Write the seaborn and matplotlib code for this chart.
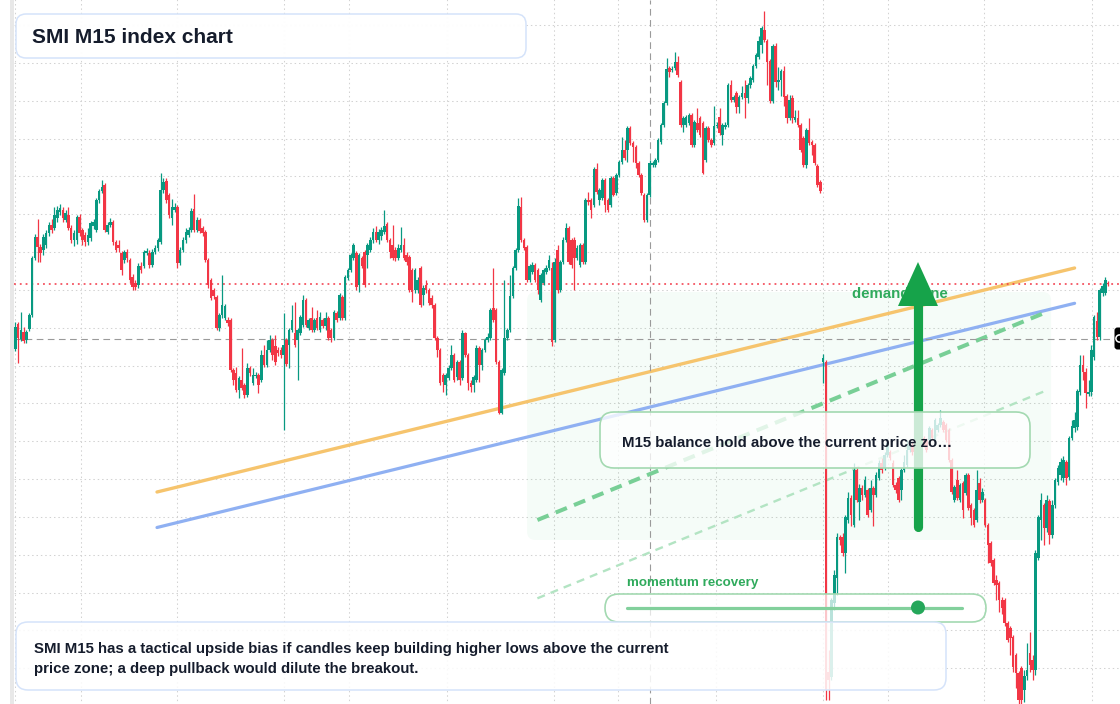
import numpy as np
import matplotlib.pyplot as plt
from matplotlib.patches import FancyBboxPatch, Polygon, Circle, Rectangle
from matplotlib.colors import to_rgba
import seaborn as sns

# ====================== DATA (SMI M15 candles) ======================
opens = [
    12051, 12076, 12061, 12068, 12060, 12071, 12085, 12142, 12163, 12153,
    12150, 12155, 12167, 12175, 12172, 12182, 12188, 12190, 12180, 12185,
    12172, 12160, 12160, 12183, 12170, 12165, 12158, 12162, 12174, 12170,
    12200, 12209, 12215, 12168, 12175, 12178, 12158, 12155, 12147, 12140,
    12148, 12140, 12123, 12117, 12115, 12134, 12134, 12147, 12147, 12135,
    12148, 12152, 12158, 12210, 12219, 12205, 12182, 12190, 12193, 12137,
    12150, 12160, 12165, 12170, 12191, 12170, 12180, 12172, 12168, 12140,
    12120, 12110, 12103, 12072, 12085, 12082, 12080, 12080, 12030, 12027,
    12010, 12020, 12015, 12005, 12032, 12017, 12024, 12025, 12020, 12045,
    12035, 12050, 12060, 12054, 12050, 12050, 12045, 12060, 12055, 12070,
    12067, 12060, 12067, 12075, 12100, 12072, 12082, 12070, 12082, 12070,
    12080, 12074, 12082, 12070, 12062, 12087, 12082, 12103, 12082, 12122,
    12130, 12142, 12147, 12115, 12142, 12148, 12145, 12150, 12160, 12168,
    12160, 12164, 12168, 12176, 12160, 12155, 12150, 12142, 12150, 12155,
    12145, 12143, 12130, 12110, 12110, 12132, 12105, 12115, 12110, 12102,
    12095, 12062, 12050, 12025, 12015, 12022, 12032, 12045, 12023, 12038,
    12022, 12067, 12045, 12017, 12015, 12020, 12052, 12035, 12050, 12060,
    12062, 12092, 12090, 12038, 11987, 12027, 12062, 12070, 12104, 12132,
    12150, 12193, 12160, 12153, 12120, 12128, 12135, 12130, 12100, 12117,
    12128, 12132, 12132, 12060, 12150, 12110, 12138, 12160, 12172, 12160,
    12160, 12142, 12135, 12155, 12138, 12200, 12200, 12195, 12231, 12200,
    12202, 12220, 12200, 12195, 12222, 12207, 12225, 12238, 12250, 12250,
    12272, 12257, 12253, 12237, 12225, 12205, 12180, 12205, 12235, 12235,
    12240, 12258, 12275, 12297, 12332, 12330, 12332, 12338, 12318, 12275,
    12275, 12277, 12285, 12255, 12277, 12282, 12277, 12240, 12272, 12260,
    12257, 12274, 12283, 12265, 12273, 12275, 12315, 12300, 12307, 12293,
    12303, 12307, 12302, 12315, 12320, 12334, 12343, 12355, 12370, 12359,
    12339, 12299, 12354, 12318, 12320, 12329, 12304, 12282, 12302, 12280,
    12282, 12275, 12262, 12235, 12270, 12258, 12255, 12234, 12218, 12038,
    12038, 11728, 11723, 11797, 11822, 11863, 11863, 11847, 11880, 11902,
    11875, 11930, 11898, 11912, 11905, 11910, 11890, 11912, 11905, 11922,
    11937, 11932, 11945, 11948, 11937, 11915, 11922, 11910, 11930, 11935,
    11950, 11955, 11955, 11945, 11955, 11962, 11960, 11960, 11970, 11960, 11970,
    11975, 11978, 11975, 11970, 11940, 11900, 11920, 11900, 11917, 11907,
    11925, 11895, 11890, 11880, 11917, 11900, 11900, 11875, 11857, 11840,
    11820, 11817, 11800, 11800, 11777, 11772, 11763, 11745, 11727, 11732, 11710,
    11724, 11747, 11740, 11730, 11842, 11880, 11895, 11872, 11899, 11865,
    11895, 11918, 11925, 11922, 11938, 11923, 11962, 11972, 11973, 12008,
    12035, 12028, 12006, 12008, 12043, 12079, 12063, 12107, 12107, 12117,
]
highs = [
    12078, 12078, 12088, 12073, 12070, 12087, 12144, 12166, 12181, 12156,
    12166, 12170, 12178, 12181, 12193, 12194, 12196, 12193, 12190, 12193,
    12175, 12170, 12185, 12186, 12172, 12168, 12172, 12179, 12181, 12202,
    12211, 12220, 12217, 12178, 12182, 12180, 12160, 12160, 12149, 12150,
    12151, 12142, 12126, 12120, 12137, 12138, 12150, 12152, 12150, 12151,
    12155, 12162, 12227, 12222, 12222, 12207, 12201, 12197, 12195, 12153,
    12163, 12172, 12173, 12192, 12206, 12183, 12182, 12174, 12170, 12142,
    12122, 12112, 12105, 12087, 12125, 12096, 12083, 12082, 12032, 12033,
    12024, 12052, 12017, 12037, 12034, 12032, 12028, 12027, 12050, 12055,
    12060, 12065, 12062, 12065, 12053, 12053, 12087, 12062, 12072, 12095,
    12098, 12072, 12085, 12105, 12102, 12082, 12093, 12082, 12090, 12088,
    12082, 12088, 12084, 12072, 12090, 12089, 12107, 12105, 12125, 12132,
    12147, 12157, 12149, 12147, 12144, 12150, 12157, 12163, 12172, 12174,
    12171, 12173, 12190, 12178, 12162, 12175, 12153, 12156, 12173, 12162,
    12148, 12145, 12132, 12132, 12123, 12134, 12115, 12120, 12112, 12105,
    12097, 12064, 12052, 12027, 12027, 12035, 12055, 12047, 12040, 12040,
    12070, 12068, 12047, 12020, 12025, 12055, 12054, 12052, 12062, 12067,
    12092, 12132, 12092, 12040, 12032, 12120, 12072, 12125, 12134, 12152,
    12202, 12203, 12162, 12155, 12136, 12138, 12137, 12132, 12127, 12132,
    12135, 12145, 12138, 12142, 12155, 12140, 12163, 12177, 12174, 12162,
    12163, 12155, 12157, 12157, 12202, 12208, 12202, 12233, 12237, 12212,
    12222, 12222, 12202, 12224, 12224, 12227, 12240, 12263, 12260, 12274,
    12274, 12259, 12255, 12239, 12227, 12207, 12207, 12240, 12239, 12242,
    12262, 12277, 12299, 12342, 12334, 12334, 12348, 12344, 12320, 12284,
    12285, 12287, 12287, 12280, 12292, 12284, 12279, 12274, 12274, 12262,
    12294, 12278, 12292, 12277, 12278, 12317, 12320, 12305, 12309, 12305,
    12314, 12320, 12317, 12324, 12336, 12347, 12364, 12374, 12389, 12361,
    12341, 12356, 12357, 12333, 12331, 12334, 12306, 12305, 12305, 12290,
    12290, 12277, 12264, 12272, 12282, 12260, 12257, 12236, 12220, 12046,
    12040, 11750, 11802, 11830, 11867, 11865, 11867, 11885, 11908, 11905,
    11937, 11932, 11916, 11915, 11924, 11912, 11920, 11914, 11928, 11940,
    11942, 11948, 11960, 11950, 11940, 11918, 11924, 11932, 11945, 11960,
    11960, 11958, 11960, 11965, 11972, 11964, 11962, 11974, 11972, 11982, 11977,
    11990, 11980, 11977, 11972, 11942, 11915, 11930, 11917, 11919, 11927,
    11927, 11897, 11892, 11930, 11922, 11912, 11902, 11877, 11859, 11842,
    11825, 11819, 11803, 11802, 11779, 11774, 11765, 11747, 11729, 11734, 11730,
    11757, 11768, 11745, 11850, 11885, 11907, 11897, 11905, 11901, 11900,
    11922, 11935, 11942, 11944, 11940, 11964, 11980, 11988, 12011, 12045,
    12045, 12032, 12020, 12055, 12085, 12088, 12112, 12117, 12123, 12119,
]
lows = [
    12049, 12037, 12059, 12057, 12057, 12069, 12083, 12140, 12138, 12138,
    12145, 12152, 12164, 12167, 12170, 12178, 12185, 12178, 12178, 12170,
    12157, 12154, 12156, 12164, 12155, 12154, 12155, 12159, 12171, 12168,
    12197, 12207, 12168, 12166, 12173, 12155, 12148, 12148, 12125, 12137,
    12138, 12117, 12110, 12110, 12112, 12127, 12132, 12145, 12132, 12133,
    12146, 12149, 12156, 12207, 12197, 12182, 12175, 12188, 12132, 12135,
    12148, 12157, 12163, 12168, 12168, 12168, 12167, 12164, 12138, 12112,
    12100, 12101, 12070, 12069, 12082, 12080, 12074, 12028, 12015, 12008,
    12002, 12010, 12002, 12003, 12024, 12015, 12022, 12007, 12018, 12033,
    12033, 12048, 12040, 12035, 12044, 12042, 11970, 12034, 12032, 12068,
    12053, 12020, 12065, 12073, 12073, 12070, 12068, 12068, 12070, 12068,
    12072, 12070, 12060, 12058, 12060, 12078, 12080, 12080, 12080, 12120,
    12128, 12140, 12110, 12108, 12132, 12113, 12132, 12148, 12157, 12158,
    12156, 12160, 12166, 12158, 12142, 12140, 12139, 12140, 12148, 12140,
    12135, 12108, 12098, 12107, 12107, 12093, 12095, 12107, 12095, 12092,
    12060, 12043, 12015, 12008, 12005, 12020, 12030, 12018, 12020, 12015,
    12020, 12043, 12010, 12008, 12008, 12018, 12018, 12030, 12048, 12058,
    12060, 12078, 12036, 11986, 11986, 12025, 12060, 12068, 12102, 12130,
    12148, 12158, 12150, 12118, 12118, 12126, 12118, 12106, 12098, 12115,
    12126, 12130, 12054, 12058, 12107, 12108, 12136, 12158, 12136, 12132,
    12110, 12140, 12133, 12136, 12136, 12195, 12182, 12193, 12206, 12195,
    12200, 12188, 12188, 12193, 12204, 12205, 12223, 12236, 12240, 12238,
    12255, 12238, 12232, 12223, 12205, 12178, 12178, 12203, 12233, 12233,
    12238, 12256, 12273, 12295, 12323, 12328, 12330, 12323, 12273, 12268,
    12273, 12275, 12253, 12253, 12268, 12263, 12226, 12238, 12258, 12253,
    12255, 12272, 12265, 12255, 12271, 12273, 12298, 12298, 12287, 12287,
    12301, 12282, 12297, 12312, 12318, 12332, 12341, 12347, 12358, 12315,
    12297, 12297, 12313, 12310, 12304, 12294, 12277, 12280, 12277, 12278,
    12273, 12248, 12233, 12232, 12255, 12245, 12235, 12213, 12207, 12017,
    11700, 11700, 11720, 11790, 11805, 11855, 11844, 11827, 11877, 11874,
    11873, 11898, 11880, 11900, 11903, 11883, 11888, 11874, 11903, 11920,
    11927, 11930, 11943, 11940, 11913, 11907, 11898, 11900, 11928, 11933,
    11948, 11945, 11942, 11942, 11953, 11953, 11948, 11958, 11960, 11958, 11968,
    11973, 11968, 11958, 11938, 11906, 11898, 11900, 11898, 11882, 11905,
    11890, 11875, 11873, 11878, 11897, 11898, 11873, 11837, 11834, 11815,
    11800, 11788, 11786, 11774, 11758, 11745, 11728, 11712, 11696, 11696, 11698,
    11720, 11728, 11720, 11725, 11840, 11860, 11855, 11868, 11856, 11862,
    11892, 11915, 11920, 11918, 11915, 11920, 11960, 11968, 11970, 12005,
    12020, 11992, 12004, 12004, 12040, 12060, 12060, 12104, 12105, 12114,
]
closes = [
    12073, 12062, 12070, 12059, 12068, 12085, 12142, 12163, 12153, 12147,
    12163, 12167, 12175, 12170, 12185, 12190, 12192, 12182, 12187, 12172,
    12160, 12167, 12183, 12167, 12160, 12158, 12165, 12177, 12178, 12200,
    12209, 12213, 12170, 12175, 12178, 12158, 12150, 12152, 12130, 12148,
    12142, 12120, 12113, 12113, 12134, 12130, 12148, 12149, 12135, 12148,
    12152, 12160, 12210, 12218, 12200, 12185, 12193, 12193, 12137, 12150,
    12160, 12168, 12170, 12189, 12170, 12180, 12169, 12167, 12140, 12115,
    12102, 12104, 12072, 12085, 12095, 12094, 12077, 12030, 12020, 12010,
    12022, 12012, 12005, 12032, 12027, 12025, 12025, 12015, 12045, 12035,
    12050, 12060, 12045, 12038, 12047, 12045, 12055, 12036, 12070, 12080,
    12055, 12070, 12083, 12100, 12075, 12080, 12070, 12080, 12072, 12083,
    12074, 12082, 12062, 12062, 12088, 12080, 12105, 12082, 12123, 12130,
    12145, 12155, 12113, 12145, 12134, 12115, 12155, 12160, 12168, 12160,
    12168, 12170, 12174, 12160, 12148, 12142, 12142, 12152, 12155, 12142,
    12138, 12110, 12108, 12130, 12120, 12095, 12112, 12110, 12097, 12095,
    12062, 12050, 12017, 12018, 12025, 12032, 12045, 12020, 12038, 12020,
    12067, 12045, 12017, 12013, 12023, 12052, 12035, 12050, 12060, 12063,
    12090, 12080, 12038, 11987, 12030, 12062, 12070, 12104, 12132, 12150,
    12194, 12160, 12152, 12120, 12134, 12135, 12120, 12110, 12125, 12130,
    12132, 12140, 12058, 12138, 12110, 12138, 12160, 12172, 12138, 12135,
    12142, 12152, 12155, 12138, 12200, 12198, 12190, 12231, 12208, 12210,
    12220, 12195, 12190, 12222, 12205, 12225, 12238, 12250, 12242, 12272,
    12257, 12253, 12237, 12225, 12207, 12180, 12205, 12237, 12237, 12240,
    12260, 12275, 12297, 12331, 12328, 12331, 12338, 12325, 12275, 12282,
    12283, 12285, 12255, 12278, 12270, 12265, 12227, 12272, 12260, 12255,
    12274, 12275, 12267, 12275, 12275, 12315, 12300, 12303, 12293, 12303,
    12307, 12302, 12315, 12322, 12334, 12345, 12359, 12372, 12360, 12338,
    12299, 12354, 12318, 12320, 12329, 12303, 12282, 12300, 12282, 12283,
    12275, 12250, 12235, 12270, 12257, 12255, 12237, 12215, 12209, 12042,
    11710, 11720, 11800, 11825, 11863, 11860, 11847, 11883, 11902, 11885,
    11930, 11900, 11912, 11905, 11920, 11885, 11912, 11905, 11925, 11937,
    11930, 11945, 11957, 11942, 11915, 11910, 11900, 11930, 11938, 11950,
    11955, 11948, 11945, 11960, 11970, 11955, 11950, 11972, 11962, 11980, 11975,
    11982, 11970, 11960, 11940, 11908, 11913, 11902, 11915, 11890, 11925,
    11892, 11882, 11875, 11910, 11900, 11908, 11875, 11855, 11837, 11817,
    11815, 11800, 11792, 11777, 11760, 11762, 11733, 11727, 11700, 11700, 11724,
    11730, 11735, 11730, 11847, 11883, 11900, 11872, 11900, 11865, 11895,
    11920, 11932, 11938, 11940, 11922, 11962, 11974, 11980, 12009, 12035,
    12028, 12007, 12008, 12050, 12083, 12063, 12110, 12114, 12120, 12116,
]

# time grid (candle index of the session ticks) and price grid
time_ticks = [-0.1, 23.40, 57.96, 96.24, 119.50, 154.35, 192.63, 215.74,
              250.59, 289.09, 312.13, 346.69, 385.33]
price_grid_top = 12374.9
price_grid_step = 37.83

# crosshair
cross_index = 227
cross_price = 12061.5

# drawings (candle index, price)
orange_x, orange_y = [50.7, 379.0], [11908, 12132]
blue_x, blue_y = [50.7, 379.0], [11872.5, 12096.7]
green_x, green_y = [186.8, 369.3], [11880, 12088.3]
green2_x, green2_y = [186.8, 369.3], [11801.7, 12010]
zone_x, zone_y = [183.1, 370.6], [11860, 12108]

title = "SMI M15 index chart"
note_text = "M15 balance hold above the current price zo\u2026"
zone_label = "demand zone"
momentum_label = "momentum recovery"
summary_lines = [
    "SMI M15 has a tactical upside bias if candles keep building higher lows above the current",
    "price zone; a deep pullback would dilute the breakout.",
]

UP, DOWN = '#089981', '#f23645'

# ====================== PLOT ======================
sns.set_theme(style='white')
plt.rcParams['font.family'] = ['Liberation Sans', 'DejaVu Sans']

W, H = 1120, 704
fig = plt.figure(figsize=(W / 100, H / 100), dpi=100)
fig.patch.set_facecolor('white')

PITCH = 2.795
X0 = 15.3
ax = fig.add_axes([14 / W, 0, 1 - 14 / W, 1])
ax.set_xlim((14 - X0) / PITCH, (W - X0) / PITCH)
ax.set_ylim(12400 - H, 12400)

n = min(len(opens), len(highs), len(lows), len(closes))
o = np.array(opens[:n], float)
h = np.array(highs[:n], float)
l = np.array(lows[:n], float)
c = np.array(closes[:n], float)
idx = np.arange(n)
cols = [UP if cc >= oo else DOWN for oo, cc in zip(o, c)]
cols[-1] = DOWN

# grid
grid_prices = np.arange(price_grid_top, 11690, -price_grid_step)
ax.hlines(grid_prices, -5, 400, colors='#d2d2d2', lw=0.75,
          linestyles=(0, (1.4, 2.8)), zorder=0.5)
ax.vlines(time_ticks, 11600, 12500, colors='#d2d2d2', lw=0.75,
          linestyles=(0, (1.4, 2.8)), zorder=0.5)

# demand zone shade
ax.add_patch(FancyBboxPatch((zone_x[0], zone_y[0]), zone_x[1] - zone_x[0],
                            zone_y[1] - zone_y[0],
                            boxstyle="round,pad=0,rounding_size=3",
                            facecolor=to_rgba('#22c55e', 0.045), edgecolor='none',
                            mutation_aspect=1 / 0.356, zorder=1))

# trend lines
sns.lineplot(x=orange_x, y=orange_y, ax=ax, color='#f6c46d', linewidth=2.4,
             zorder=2, legend=False)
sns.lineplot(x=blue_x, y=blue_y, ax=ax, color='#8fb0f2', linewidth=2.3,
             zorder=2, legend=False)
ax.plot(green_x, green_y, color='#78cf96', lw=2.9, ls=(0, (3.0, 1.9)), zorder=2)
ax.plot(green2_x, green2_y, color='#b3e4c3', lw=1.7, ls=(0, (3.4, 2.6)), zorder=2)

# crosshair + last price
ax.axhline(cross_price, color='#9a9a9a', lw=0.8, ls=(0, (6, 4)), zorder=2.5)
ax.axvline(cross_index, color='#9a9a9a', lw=0.8, ls=(0, (6, 4)), zorder=2.5)
ax.axhline(c[-1], color=DOWN, lw=1.1, ls=(0, (1.2, 2.6)), zorder=2.5)

# candles
body_lo = np.minimum(o, c)
body_h = np.maximum(np.abs(c - o), 1.0)
ax.vlines(idx, l, h, colors=cols, lw=0.9, zorder=3)
ax.bar(idx, body_h, bottom=body_lo, width=0.92, color=cols, linewidth=0, zorder=3.1)

ax.axis('off')

# ====================== OVERLAY (pixel space) ======================
ov = fig.add_axes([0, 0, 1, 1], zorder=5)
ov.set_xlim(0, W)
ov.set_ylim(H, 0)
ov.axis('off')


def rbox(x0, y0, x1, y1, r, fc, fa, ec, lw, z):
    ov.add_patch(FancyBboxPatch((x0, y0), x1 - x0, y1 - y0,
                                boxstyle=f"round,pad=0,rounding_size={r}",
                                facecolor=to_rgba(fc, fa), edgecolor=ec,
                                linewidth=lw, zorder=z))


ov.add_patch(Rectangle((10, 0), 4, H, facecolor='#e8e8e8', edgecolor='none', zorder=0))

TXT = '#151c2c'
GREEN = '#16a34a'

# demand zone label under the arrow
ov.text(851.5, 298, zone_label, fontsize=10.8, fontweight='bold', color='#2faa5c',
        ha='left', va='baseline', zorder=1)

# arrow
ov.plot([918, 918], [527, 300], color=GREEN, lw=6.6, solid_capstyle='round', zorder=2)
ov.add_patch(Polygon([(898, 306), (938, 306), (918, 262)], closed=True,
                     facecolor=GREEN, edgecolor='none', zorder=2))

# note box
rbox(600, 412, 1030, 468, 14, 'white', 0.78, '#a3d9b1', 1.2, 3)
ov.text(622, 446.5, note_text, fontsize=10.8, fontweight='bold', color=TXT,
        ha='left', va='baseline', zorder=4)

# momentum slider
ov.text(627, 586, momentum_label, fontsize=9.6, fontweight='bold', color='#2faa5c',
        ha='left', va='baseline', zorder=4)
rbox(605, 594, 986, 622, 14, 'white', 0.72, '#a3d9b1', 1.2, 3)
ov.plot([627, 962], [607.5, 607.5], color='#82d09c', lw=2.3, solid_capstyle='round', zorder=4)
ov.add_patch(Circle((918, 607.5), 7, facecolor='#25a75a', edgecolor='none', zorder=5))

# summary box
rbox(16, 622, 946, 690, 12, 'white', 0.86, '#d5e3fa', 1.1, 3)
for k, line in enumerate(summary_lines):
    ov.text(34, 653.3 + 20 * k, line, fontsize=10.8, fontweight='bold', color=TXT,
            ha='left', va='baseline', zorder=4)

# title box
rbox(16, 14, 526, 58, 10, 'white', 0.97, '#d5e3fa', 1.1, 3)
ov.text(32, 43.4, title, fontsize=15, fontweight='bold', color=TXT,
        ha='left', va='baseline', zorder=4)

# crosshair price marker at the right edge (label runs off the pane)
rbox(1114.5, 327.5, 1150, 349.5, 3, 'black', 1.0, 'none', 0, 6)
ov.add_patch(Circle((1119.5, 338.5), 3.6, facecolor='none', edgecolor='white',
                    linewidth=1.1, zorder=7))

fig.savefig('out.png', dpi=100, facecolor='white')
